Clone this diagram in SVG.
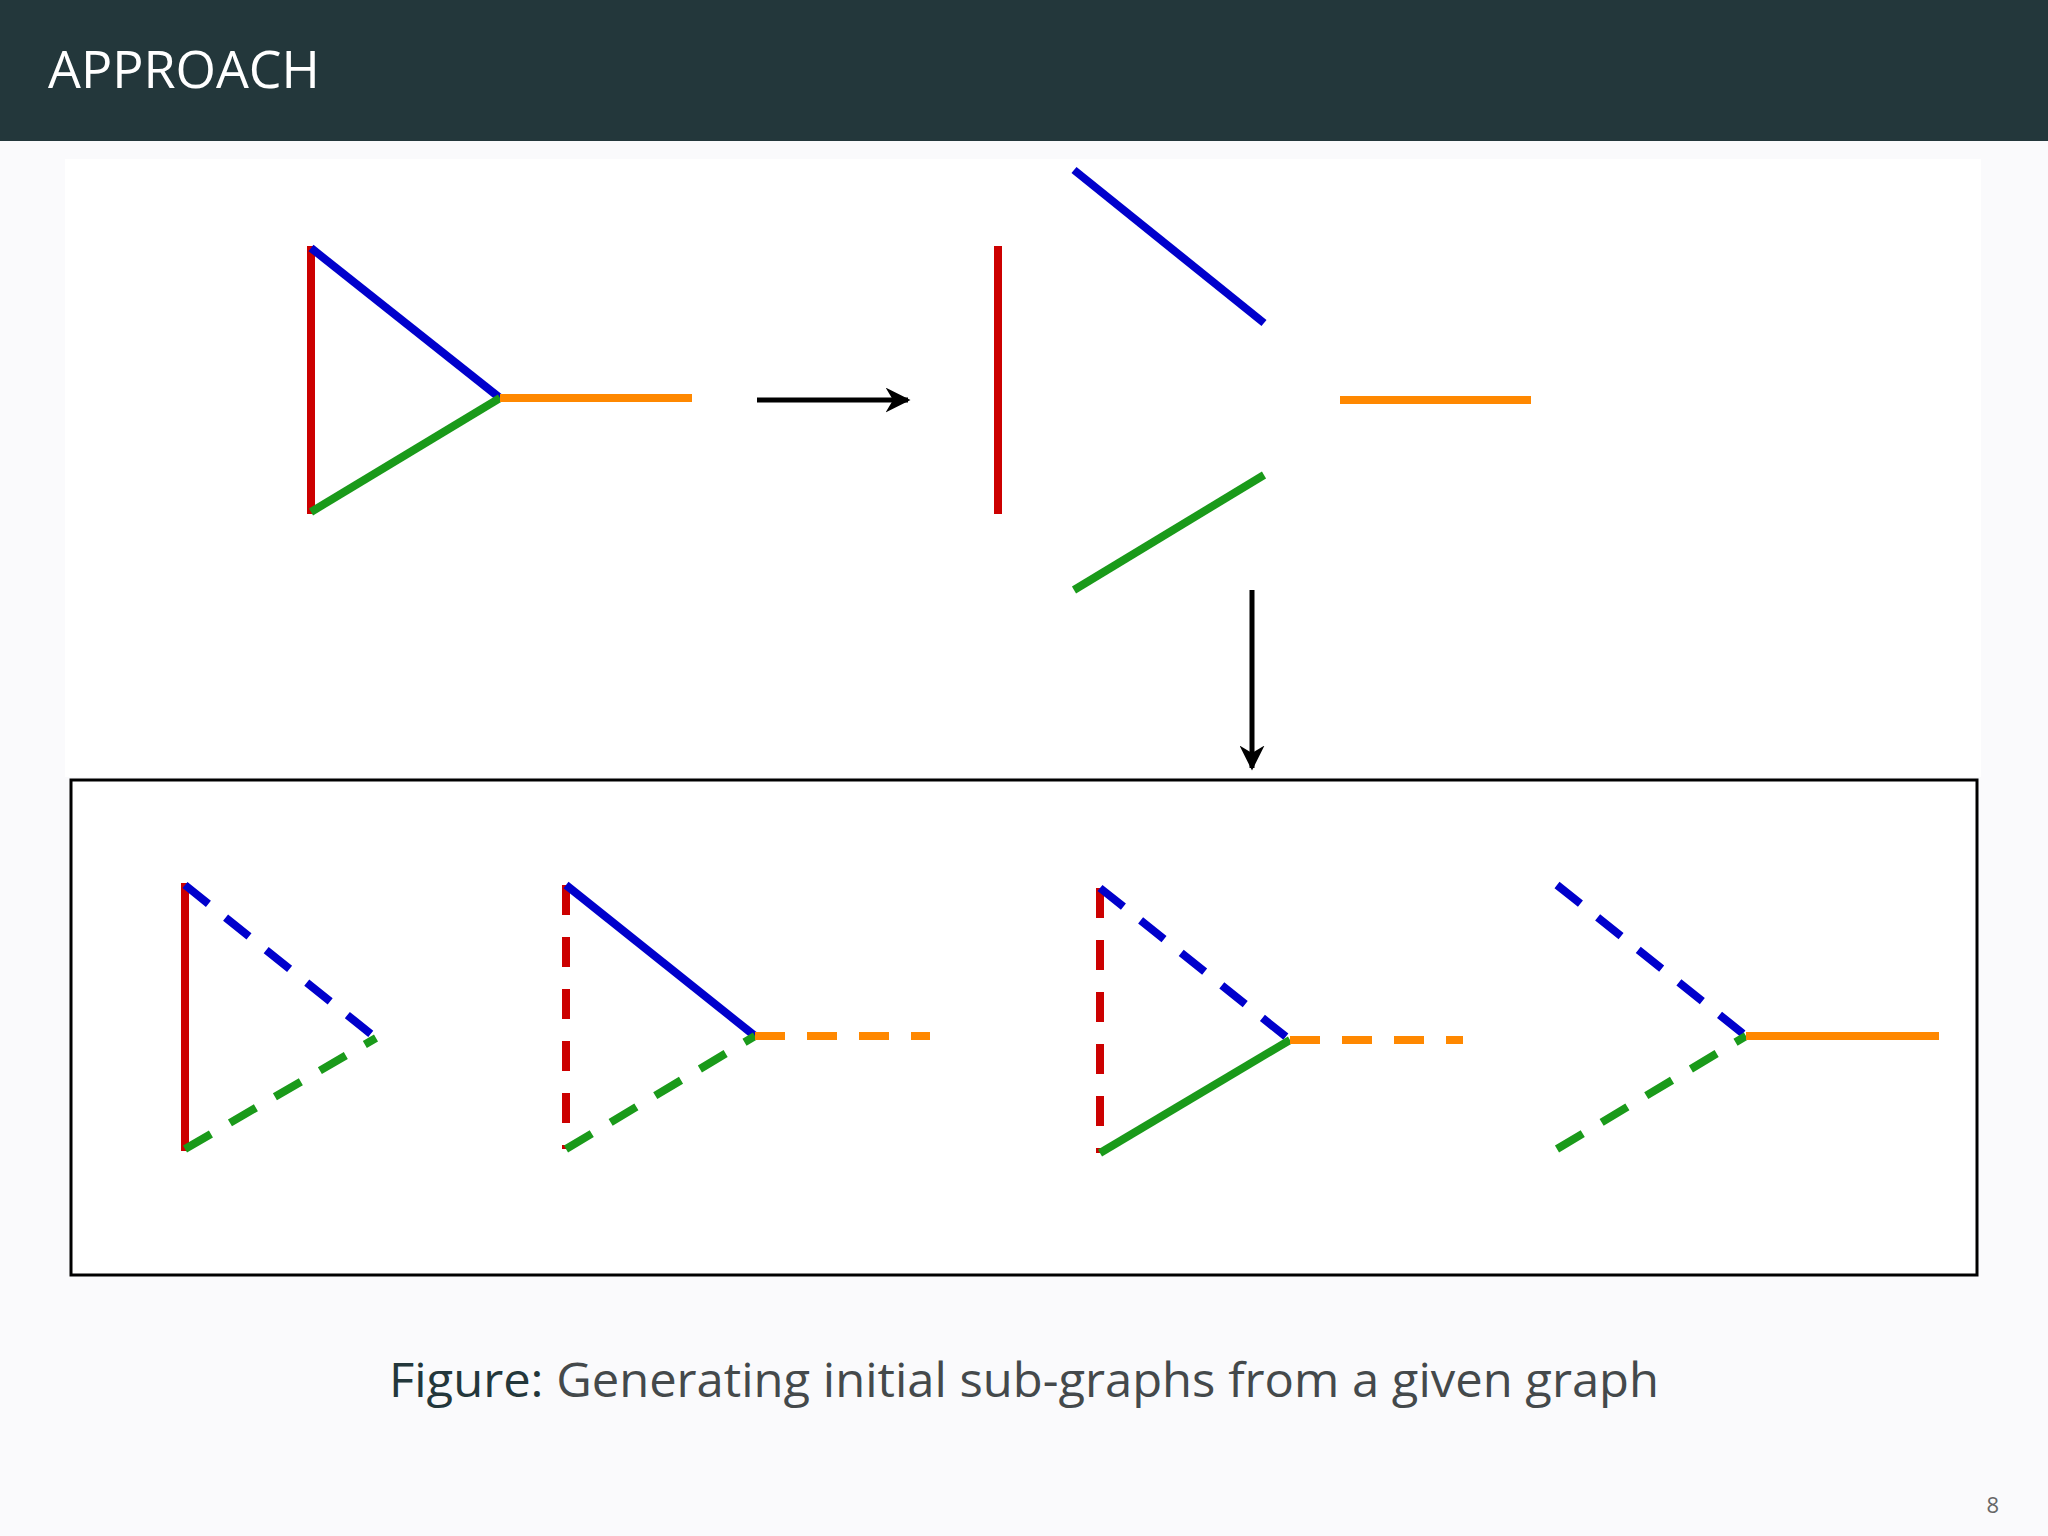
<svg xmlns="http://www.w3.org/2000/svg" width="2048" height="1536" viewBox="0 0 2048 1536">
<style>
.e{stroke-width:8;fill:none;stroke-linecap:butt}
.r{stroke:#cc0000}.b{stroke:#0000cc}.g{stroke:#1a9a1a}.o{stroke:#ff8800}
.d{stroke-dasharray:30 22}
.t{font-family:"Open Sans","Noto Sans",sans-serif}
</style>
<defs>
<marker id="ah" viewBox="0 0 10 10" refX="9" refY="5" markerWidth="5" markerHeight="5" orient="auto" markerUnits="strokeWidth">
<path d="M0,0 L10,5 L0,10 L3,5 z" fill="#000"/>
</marker>
</defs>
<rect width="2048" height="1536" fill="#fafafc"/>
<rect width="2048" height="141" fill="#23373b"/>
<text class="t" x="48" y="88" font-size="52" fill="#ffffff">APPROACH</text>
<rect x="65" y="159" width="1916" height="618" fill="#ffffff"/>
<g id="graph">
<line class="e r" x1="311" y1="246" x2="311" y2="514"/>
<line class="e b" x1="311" y1="248" x2="500" y2="398"/>
<line class="e g" x1="311" y1="512" x2="500" y2="398"/>
<line class="e o" x1="500" y1="398" x2="692" y2="398"/>
</g>
<g id="split">
<line class="e r" x1="998" y1="246" x2="998" y2="514"/>
<line class="e b" x1="1074" y1="170" x2="1264" y2="323"/>
<line class="e g" x1="1074" y1="590" x2="1264" y2="475"/>
<line class="e o" x1="1340" y1="400" x2="1531" y2="400"/>
</g>
<g id="connectors">
<line x1="757" y1="400" x2="908" y2="400" stroke="#000" stroke-width="5" marker-end="url(#ah)"/>
<line x1="1252" y1="590" x2="1252" y2="768" stroke="#000" stroke-width="5" marker-end="url(#ah)"/>
</g>
<g id="results">
<rect x="71" y="780" width="1906" height="495" fill="#ffffff" stroke="#000" stroke-width="3"/>
<g id="sub1">
<line class="e r" x1="185" y1="883" x2="185" y2="1151"/>
<line class="e b d" x1="185" y1="885" x2="376" y2="1038"/>
<line class="e g d" x1="185" y1="1149" x2="376" y2="1038"/>
</g>
<g id="sub2">
<line class="e r d" x1="566" y1="885" x2="566" y2="1149"/>
<line class="e b" x1="566" y1="885" x2="755" y2="1036"/>
<line class="e g d" x1="566" y1="1149" x2="755" y2="1036"/>
<line class="e o d" x1="755" y1="1036" x2="930" y2="1036"/>
</g>
<g id="sub3">
<line class="e r d" x1="1100" y1="888" x2="1100" y2="1153"/>
<line class="e b d" x1="1100" y1="888" x2="1290" y2="1040"/>
<line class="e g" x1="1100" y1="1153" x2="1290" y2="1040"/>
<line class="e o d" x1="1290" y1="1040" x2="1463" y2="1040"/>
</g>
<g id="sub4">
<line class="e b d" x1="1557" y1="885" x2="1746" y2="1036"/>
<line class="e g d" x1="1557" y1="1149" x2="1746" y2="1036"/>
<line class="e o" x1="1746" y1="1036" x2="1939" y2="1036"/>
</g>
</g>
<text class="t" x="389" y="1397" font-size="47" fill="#44494b" textLength="1270" lengthAdjust="spacingAndGlyphs"><tspan fill="#23373b">Figure:</tspan> Generating initial sub-graphs from a given graph</text>
<text class="t" x="1999" y="1513" font-size="22" fill="#666" text-anchor="end">8</text>
</svg>
